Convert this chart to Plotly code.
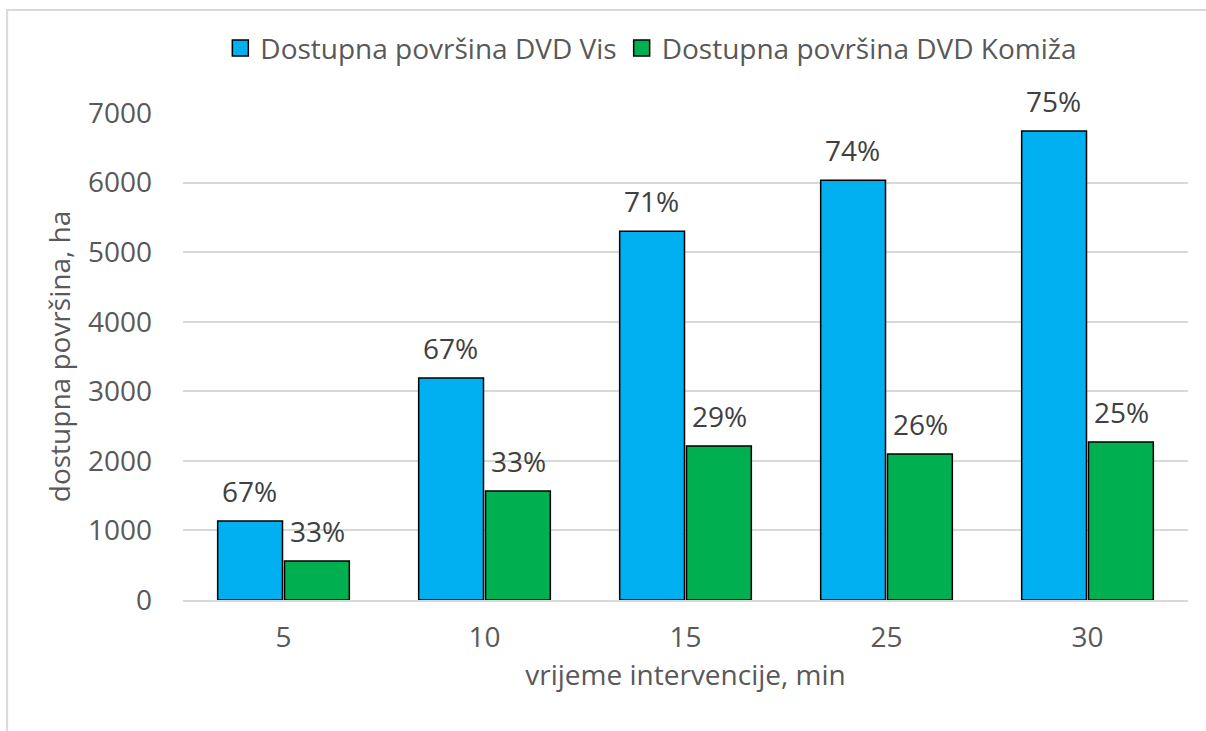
import plotly.graph_objects as go

categories = ["5", "10", "15", "25", "30"]
vis_values = [1135, 3190, 5300, 6035, 6740]
komiza_values = [560, 1565, 2213, 2098, 2270]
vis_labels = ["67%", "67%", "71%", "74%", "75%"]
komiza_labels = ["33%", "33%", "29%", "26%", "25%"]
series_names = ["Dostupna površina DVD Vis", "Dostupna površina DVD Komiža"]
colors = ["#00B0F0", "#00B050"]

FONT = "Open Sans"
GREY = "#595959"
SIZE = 28

fig = go.Figure()
for name, vals, col in zip(series_names, [vis_values, komiza_values], colors):
    fig.add_trace(go.Bar(
        x=categories, y=vals, name=name, showlegend=False,
        marker=dict(color=col, line=dict(color="#000000", width=1.5)),
    ))
# legend entries with larger square swatches
for name, col in zip(series_names, colors):
    fig.add_trace(go.Scatter(
        x=[None], y=[None], mode="markers", name=name,
        marker=dict(symbol="square", size=16, color=col, line=dict(color="#000000", width=1.5)),
    ))

annotations = []
for i, (v, t) in enumerate(zip(vis_values, vis_labels)):
    annotations.append(dict(x=i, y=v, text=t, xref="x", yref="y", showarrow=False,
                            xshift=-34, yanchor="bottom", yshift=9,
                            font=dict(family=FONT, size=SIZE, color="#404040")))
for i, (v, t) in enumerate(zip(komiza_values, komiza_labels)):
    annotations.append(dict(x=i, y=v, text=t, xref="x", yref="y", showarrow=False,
                            xshift=34, yanchor="bottom", yshift=9,
                            font=dict(family=FONT, size=SIZE, color="#404040")))

fig.update_layout(
    width=1206, height=731,
    margin=dict(l=183, r=18, t=113, b=131, autoexpand=False),
    paper_bgcolor="white", plot_bgcolor="white",
    barmode="group", bargap=0.335, bargroupgap=0.03,
    font=dict(family=FONT, color=GREY),
    annotations=annotations,
    legend=dict(orientation="h", x=0.466, xanchor="center", y=1.133, yanchor="middle",
                font=dict(family=FONT, size=SIZE, color=GREY), traceorder="normal",
                itemwidth=30),
    xaxis=dict(
        type="category", range=[-0.5, 4.5], automargin=False,
        title=dict(text="vrijeme intervencije, min", font=dict(family=FONT, size=SIZE, color=GREY),
                   standoff=10),
        tickfont=dict(family=FONT, size=SIZE, color=GREY),
        showline=True, linecolor="#D9D9D9", linewidth=1.5, ticks="", ticklabelstandoff=12,
    ),
    yaxis=dict(
        automargin=False,
        title=dict(text="dostupna površina, ha", font=dict(family=FONT, size=SIZE, color=GREY),
                   standoff=9),
        tickfont=dict(family=FONT, size=SIZE, color=GREY),
        range=[0, 7000], dtick=1000, showgrid=True, gridcolor="#D9D9D9", gridwidth=1.5,
        zeroline=False, ticks="", ticklabelstandoff=30,
    ),
    shapes=[dict(type="rect", xref="paper", yref="paper",
                 x0=-0.175, x1=1.2, y0=-0.5, y1=1.2115,
                 line=dict(color="#D9D9D9", width=2), fillcolor="rgba(0,0,0,0)", layer="below")],
)

fig.write_html("out.html", config={"displayModeBar": False},
               post_script="document.body.style.margin='0';")
